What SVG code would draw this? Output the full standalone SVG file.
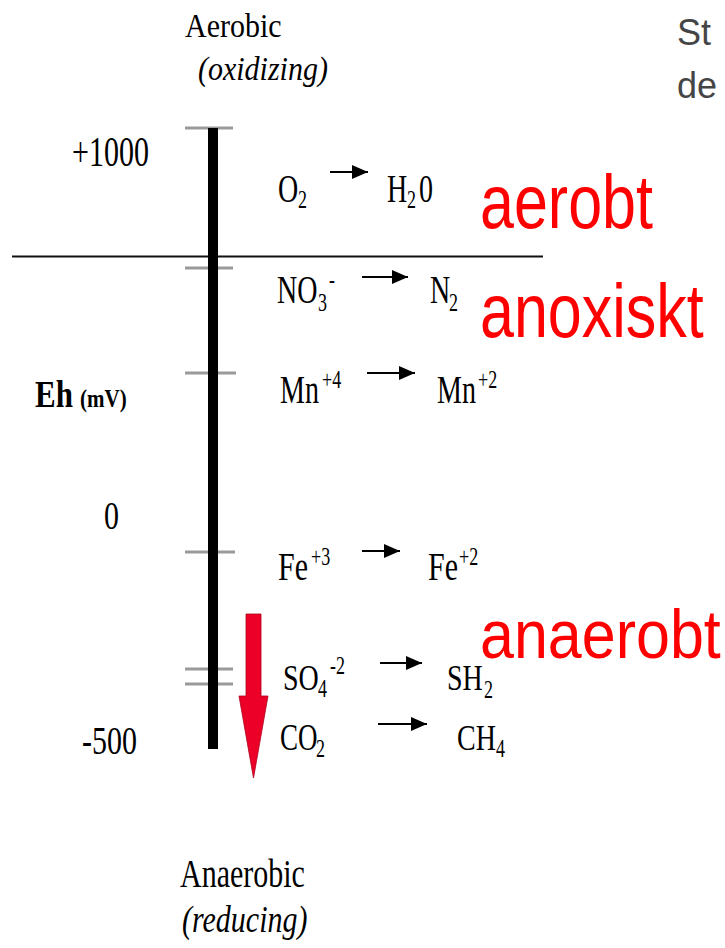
<svg xmlns="http://www.w3.org/2000/svg" width="725" height="948" viewBox="0 0 725 948">
<defs>
<style>
.tm{font-family:"Liberation Serif","Times New Roman",serif;fill:#000}
.big{font-size:28px}
.sm{font-size:18px}
.red{font-family:"Liberation Sans",Arial,sans-serif;font-size:61px;fill:#ff0000}
.gray{font-family:"Liberation Sans",Arial,sans-serif;font-size:36px;fill:#454545}
.tick{stroke:#9a9a9a;stroke-width:3}
.arr{stroke:#000;stroke-width:2.2;fill:none;marker-end:url(#ah)}
</style>
<marker id="ah" markerUnits="userSpaceOnUse" markerWidth="16" markerHeight="14" refX="16" refY="7" orient="auto">
<path d="M0,0 L16,7 L0,14 z" fill="#000"/>
</marker>
</defs>
<rect width="725" height="948" fill="#fff"/>

<g id="title-gray">
<text class="gray" x="677" y="45">St</text>
<text class="gray" x="677" y="98">de</text>
</g>

<g id="aerobic-label">
<text class="tm" font-size="30" transform="translate(185,37) scale(1,1.1)">Aerobic</text>
<text class="tm" font-size="30" font-style="italic" transform="translate(198,80) scale(1,1.1)">(oxidizing)</text>
</g>

<g id="anaerobic-label">
<text class="tm" font-size="30" transform="translate(180,887) scale(1,1.3)">Anaerobic</text>
<text class="tm" font-size="30" font-style="italic" transform="translate(182,932) scale(1,1.25)">(reducing)</text>
</g>

<g id="axis-labels">
<text class="tm" font-size="30" transform="translate(72,166) scale(1,1.4)">+1000</text>
<text class="tm" font-size="30" transform="translate(104,529) scale(1,1.33)">0</text>
<text class="tm" font-size="30" transform="translate(82,754) scale(1,1.35)">-500</text>
<text class="tm" font-size="31" font-weight="bold" transform="translate(35,407) scale(1,1.22)">Eh</text>
<text class="tm" font-size="21" font-weight="bold" transform="translate(80,407) scale(1,1.2)">(mV)</text>
</g>

<g id="axis">
<line x1="12" y1="256.5" x2="543" y2="256.5" stroke="#111" stroke-width="2"/>
<line class="tick" x1="185" y1="128" x2="233" y2="128"/>
<line class="tick" x1="185" y1="268" x2="233" y2="268"/>
<line class="tick" x1="185" y1="373" x2="236" y2="373"/>
<line class="tick" x1="185" y1="552" x2="235" y2="552"/>
<line class="tick" x1="185" y1="669" x2="233" y2="669"/>
<line class="tick" x1="185" y1="684" x2="233" y2="684"/>
<rect x="208" y="128" width="10" height="621" fill="#000"/>
</g>

<g id="red-arrow">
<polygon points="246,614 261,614 261,696 268,696 253.5,778 239,696 246,696" fill="#ec0028" stroke="#b0001e" stroke-width="0.8"/>
</g>

<g id="o2">
<text class="tm big" transform="translate(278,202) scale(1,1.4)">O</text>
<text class="tm sm" transform="translate(298,208) scale(1,1.4)">2</text>
</g>
<g id="h2o">
<text class="tm big" transform="translate(387,202) scale(1,1.4)">H</text>
<text class="tm sm" transform="translate(407,208) scale(1,1.4)">2</text>
<text class="tm big" transform="translate(419,202) scale(1,1.4)">0</text>
</g>

<g id="no3">
<text class="tm big" transform="translate(277,303) scale(1,1.4)">NO</text>
<text class="tm sm" transform="translate(318,311) scale(1,1.4)">3</text>
<text class="tm sm" transform="translate(329,288) scale(1,1.4)">-</text>
</g>
<g id="n2">
<text class="tm big" transform="translate(430,303) scale(1,1.4)">N</text>
<text class="tm sm" transform="translate(449,311) scale(1,1.4)">2</text>
</g>

<g id="mn4">
<text class="tm big" transform="translate(280,403) scale(1,1.4)">Mn</text>
<text class="tm sm" transform="translate(322,388) scale(1,1.4)">+4</text>
</g>
<g id="mn2">
<text class="tm big" transform="translate(437,403) scale(1,1.4)">Mn</text>
<text class="tm sm" transform="translate(478,388) scale(1,1.4)">+2</text>
</g>

<g id="fe3">
<text class="tm" font-size="30" transform="translate(278,580) scale(1,1.3)">Fe</text>
<text class="tm sm" transform="translate(311,565) scale(1,1.4)">+3</text>
</g>
<g id="fe2">
<text class="tm" font-size="30" transform="translate(428,580) scale(1,1.3)">Fe</text>
<text class="tm sm" transform="translate(459,565) scale(1,1.4)">+2</text>
</g>

<g id="so4">
<text class="tm big" transform="translate(283,690) scale(1,1.3)">SO</text>
<text class="tm sm" transform="translate(318,697) scale(1,1.4)">4</text>
<text class="tm sm" transform="translate(330,674) scale(1,1.4)">-2</text>
</g>
<g id="sh2">
<text class="tm big" transform="translate(447,690) scale(1,1.3)">SH</text>
<text class="tm sm" transform="translate(484,698) scale(1,1.4)">2</text>
</g>

<g id="co2">
<text class="tm" font-size="27" transform="translate(280,750) scale(1,1.4)">CO</text>
<text class="tm sm" transform="translate(316,757) scale(1,1.4)">2</text>
</g>
<g id="ch4">
<text class="tm big" transform="translate(457,750) scale(1,1.3)">CH</text>
<text class="tm sm" transform="translate(496,757) scale(1,1.4)">4</text>
</g>

<g id="connectors">
<line class="arr" x1="330" y1="172" x2="368" y2="172"/>
<line class="arr" x1="362" y1="277" x2="408" y2="277"/>
<line class="arr" x1="367" y1="373" x2="415" y2="373"/>
<line class="arr" x1="362" y1="551" x2="400" y2="551"/>
<line class="arr" x1="380" y1="663" x2="422" y2="663"/>
<line class="arr" x1="378" y1="724" x2="427" y2="724"/>
</g>

<g id="zone-labels">
<text class="red" transform="translate(480,228) scale(1,1.23)">aerobt</text>
<text class="red" transform="translate(480,337) scale(1,1.23)">anoxiskt</text>
<text class="red" transform="translate(480,658) scale(1,1.11)">anaerobt</text>
</g>
</svg>
